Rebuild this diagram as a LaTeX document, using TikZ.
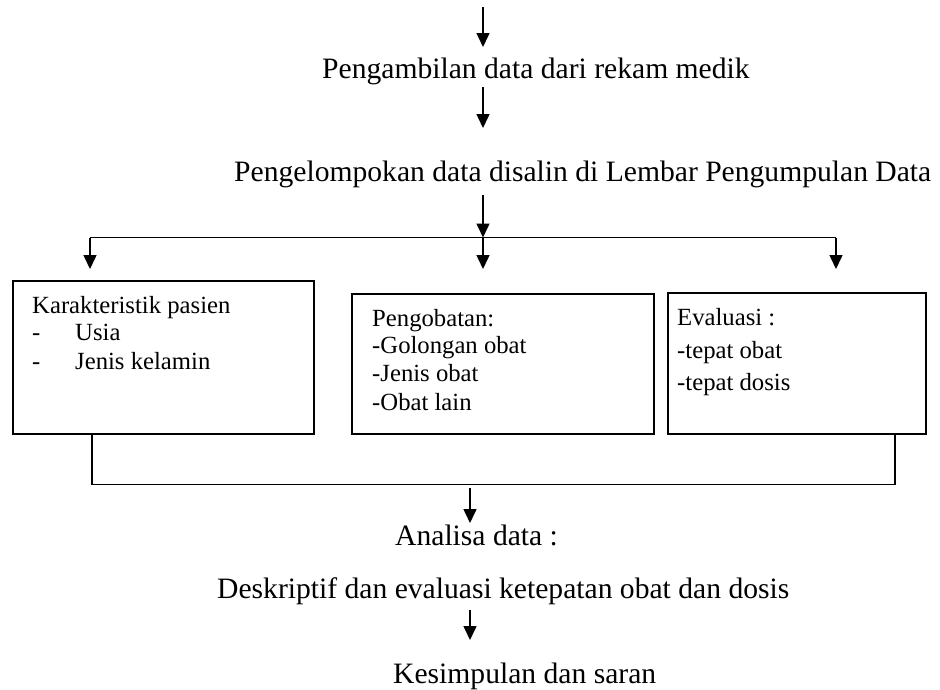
\documentclass[tikz,border=0pt]{standalone}
\usepackage{fontspec}
\setmainfont{Liberation Serif}
\usetikzlibrary{arrows.meta}
\tikzset{
  flowtext/.style={inner sep=0pt, anchor=base west, font=\fontsize{29.6}{34}\selectfont},
  boxtext/.style={inner sep=0pt, anchor=base west, font=\fontsize{24.7}{28}\selectfont},
  databox/.style={draw, line width=1.8pt, anchor=north west, inner sep=0pt},
  flowline/.style={line width=1.5pt},
  flowarrow/.style={-{Triangle[length=14pt,width=13pt]}, line width=1.5pt},
}

\begin{document}
\begin{tikzpicture}[x=1pt,y=-1pt]
\useasboundingbox (0,0) rectangle (940,689);

% main steps
\node[flowtext] (ambil) at (322,78.3) {Pengambilan data dari rekam medik};
\node[flowtext] (kelompok) at (234,181.7) {Pengelompokan data disalin di Lembar Pengumpulan Data};
\node[flowtext] (analisa) at (395,545) {Analisa data :};
\node[flowtext] (deskriptif) at (217,598) {Deskriptif dan evaluasi ketepatan obat dan dosis};
\node[flowtext] (simpulan) at (393,683) {Kesimpulan dan saran};

% boxes
\node[databox, minimum width=301pt, minimum height=153pt] (pasien) at (12,280) {};
\node[databox, minimum width=302pt, minimum height=140pt] (obat) at (351,293) {};
\node[databox, minimum width=258pt, minimum height=141pt] (evaluasi) at (667,292) {};

\node[boxtext] (karakteristik) at (32,313) {Karakteristik pasien};
\node[boxtext] (dashA) at (32,340) {-};
\node[boxtext] (usia) at (75,340) {Usia};
\node[boxtext] (dashB) at (32,369) {-};
\node[boxtext] (kelamin) at (75,369) {Jenis kelamin};

\node[boxtext] (pengobatan) at (372,326.7) {Pengobatan:};
\node[boxtext] (golongan) at (372,353) {-Golongan obat};
\node[boxtext] (jenis) at (372,381.7) {-Jenis obat};
\node[boxtext] (lain) at (372,410) {-Obat lain};

\node[boxtext] (evaltitle) at (677,325) {Evaluasi :};
\node[boxtext] (tepatobat) at (677,358) {-tepat obat};
\node[boxtext] (tepatdosis) at (677,390) {-tepat dosis};

% arrow points
\coordinate (start) at (483,7);
\coordinate (inAmbil) at (483,47);
\coordinate (outAmbil) at (483,87);
\coordinate (inKelompok) at (483,128);
\coordinate (outKelompok) at (483,195);
\coordinate (split) at (483,237.5);
\coordinate (splitL) at (90,237.5);
\coordinate (splitR) at (836,237.5);
\coordinate (toPasien) at (90,269);
\coordinate (toObat) at (483,269);
\coordinate (toEval) at (836,269);
\coordinate (joinL) at (92,484.5);
\coordinate (joinR) at (895,484.5);
\coordinate (outJoin) at (470,488);
\coordinate (inAnalisa) at (470,523);
\coordinate (outDeskriptif) at (470,610);
\coordinate (inSimpulan) at (470,640);

\draw[flowarrow] (start) -- (inAmbil);
\draw[flowarrow] (outAmbil) -- (inKelompok);
\draw[flowarrow] (outKelompok) -- (split);
\draw[flowline] (splitL) -- (splitR);
\draw[flowarrow] (splitL) -- (toPasien);
\draw[flowarrow] (split) -- (toObat);
\draw[flowarrow] (splitR) -- (toEval);

\draw[flowline] (pasien.south -| joinL) -- (joinL) -- (joinR) -- (evaluasi.south -| joinR);
\draw[flowarrow] (outJoin) -- (inAnalisa);
\draw[flowarrow] (outDeskriptif) -- (inSimpulan);
\end{tikzpicture}
\end{document}
